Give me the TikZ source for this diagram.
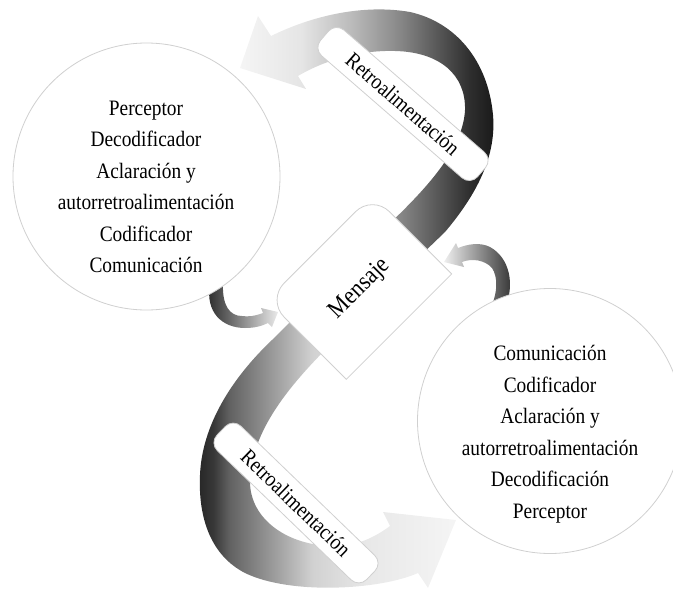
\documentclass[tikz,border=0pt]{standalone}
\usepackage{fontspec}
\setmainfont{Liberation Serif}[FakeStretch=0.88]
\usetikzlibrary{calc}
\definecolor{edgegray}{HTML}{D0D0D0}
\pgfdeclarehorizontalshading{topshade}{100bp}{color(0bp)=(black!4); color(25bp)=(black!4); color(37bp)=(black!10); color(47bp)=(black!27); color(56.5bp)=(black!47); color(64.4bp)=(black!67); color(70.3bp)=(black!82); color(75bp)=(black!90); color(100bp)=(black!90)}
\pgfdeclarehorizontalshading{botshade}{100bp}{color(0bp)=(black!85); color(25bp)=(black!85); color(28bp)=(black!78); color(31bp)=(black!62); color(41bp)=(black!35); color(47bp)=(black!18); color(57.5bp)=(black!9); color(75bp)=(black!4); color(100bp)=(black!4)}
\begin{document}
\begin{tikzpicture}[x=1pt,y=-1pt,
  circ/.style={circle, draw=edgegray, line width=0.8pt, fill=white, minimum size=#1, inner sep=0pt},
  bigtext/.style={align=center, font=\fontsize{22}{31.5}\selectfont, inner sep=0pt},
  pill/.style={draw=edgegray, line width=0.8pt, fill=white, rounded corners=11pt, minimum width=208pt, minimum height=34pt, inner sep=0pt, font=\fontsize{22}{26}\selectfont},
  msgtext/.style={font=\fontsize{25}{30}\selectfont, inner sep=0pt},
  boxline/.style={draw=edgegray, line width=0.8pt, fill=white}]
\useasboundingbox (0,0) rectangle (673,589);

% top ribbon
\begin{scope}
\clip (271,36) .. controls (320,12) and (370,5) .. (410,12) .. controls (455,22) and (488,60) .. (493,115) .. controls (497,160) and (472,200) .. (445,232) -- (418,258) -- (385,228) .. controls (425,190) and (463,150) .. (465,110) .. controls (466,75) and (440,52) .. (395,51) .. controls (360,50) and (325,60) .. (298,76) -- (306,89) -- (240,68) -- (258,16) -- cycle;
\shade[shading=topshade] (240,0) rectangle (494,300);
\end{scope}

% bottom ribbon
\begin{scope}
\clip (390,526) -- (383,512) -- (456,520) -- (428,588) -- (418,573) .. controls (380,590) and (290,595) .. (245,573) .. controls (212,556) and (198,520) .. (200,475) .. controls (202,425) and (232,378) .. (272,340) -- (300,312) -- (330,345) .. controls (290,385) and (252,430) .. (250,480) .. controls (249,520) and (290,548) .. (340,546) .. controls (360,545) and (378,535) .. (390,526) -- cycle;
\shade[shading=botshade] (198,300) rectangle (458,589);
\end{scope}

% small left arrow
\begin{scope}
\clip (210,284) .. controls (205,312) and (222,328) .. (245,328) .. controls (255,328) and (262,326) .. (268,323) -- (272,327) -- (278,312) -- (261,308) -- (263,313) .. controls (255,316) and (248,317) .. (242,316) .. controls (230,316) and (222,306) .. (223,283) -- cycle;
\shade[left color=black!85, right color=black!5] (205,280) rectangle (281,330);
\end{scope}

% small right arrow
\begin{scope}
\clip (505,308) .. controls (515,285) and (510,258) .. (490,247) .. controls (480,242) and (468,244) .. (458,248) -- (456,243) -- (444,262) -- (464,267) -- (462,262) .. controls (472,258) and (485,260) .. (492,268) .. controls (498,277) and (498,292) .. (490,310) -- cycle;
\shade[left color=black!5, right color=black!80] (443,240) rectangle (513,312);
\end{scope}

% circles
\node[circ=267pt] (lc) at (146.5,176.5) {};
\node[circ=265pt] (rc) at (550,421) {};
\node[bigtext] (lt) at (146,187) {Perceptor\\Decodificador\\Aclaración y\\autorretroalimentación\\Codificador\\Comunicación};
\node[bigtext] (rt) at (550,434) {Comunicación\\Codificador\\Aclaración y\\autorretroalimentación\\Decodificación\\Perceptor};

% message box
\begin{scope}[shift={(359.4,287)}, rotate=45]
\draw[boxline] (-74.5pt,-56pt) -- (74.5pt,-56pt) -- (74.5pt,32pt) arc[start angle=0, end angle=90, radius=24pt] -- (-50.5pt,56pt) arc[start angle=90, end angle=180, radius=24pt] -- cycle;
\end{scope}
\node[msgtext, rotate=45] (msg) at (360,289) {Mensaje};

% labels
\node[pill, rotate=-41] (p1) at (403,104) {Retroalimentación};
\node[pill, rotate=-44] (p2) at (296,503) {Retroalimentación};
\end{tikzpicture}
\end{document}
